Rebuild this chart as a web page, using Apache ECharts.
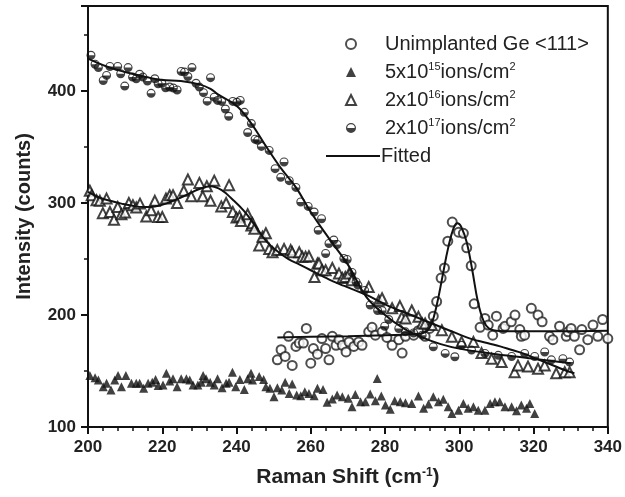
<!DOCTYPE html>
<html>
<head>
<meta charset="utf-8">
<script src="https://cdn.jsdelivr.net/npm/echarts@6/dist/echarts.min.js"></script>
<style>
  html, body { margin: 0; padding: 0; background: #fff; }
  #chart { width: 625px; height: 497px; }
</style>
</head>
<body>
<div id="chart"></div>
<script>
// Unimplanted Ge <111>  (open circles)
var circX = [251.0,252.0,253.1,254.0,255.0,256.0,256.9,258.0,258.8,260.0,260.7,261.8,263.0,264.0,264.9,265.8,266.8,267.6,268.5,269.5,270.3,271.6,272.9,273.8,275.6,276.5,277.4,279.2,280.5,281.9,283.7,284.6,285.5,287.7,289.0,290.8,292.0,293.0,293.9,295.1,296.0,296.9,298.1,299.8,301.1,302.0,303.2,304.0,305.6,306.9,307.8,309.0,310.0,311.8,312.3,314.0,315.0,316.3,316.7,317.6,319.4,321.2,322.3,324.3,325.2,327.0,328.8,329.3,330.1,331.0,332.4,333.0,334.6,336.0,337.3,338.6,340.0];
var circY = [160,169,163,181,155,172,175,175,188,157,170,165,179,170,160,181,173,178,173,167,176,172,176,173,185,189,182,185,180,173,178,166,181,182,186,181,188,199,212,233,242,266,283,274,273,260,244,210,189,197,191,182,199,188,190,194,200,187,181,182,206,200,194,181,178,190,181,185,188,181,169,187,178,191,181,196,179];

// 5x10^15 ions/cm2  (filled triangles)
var lowX = [200.5,201.9,202.8,204.1,205.0,206.2,207.2,208.1,209.0,210.2,211.7,213.0,213.9,215.0,216.2,217.3,218.2,218.9,220.2,221.1,222.0,222.9,224.0,225.1,226.5,227.4,228.3,229.6,230.5,231.0,231.8,232.9,234.0,234.9,236.1,237.2,238.0,238.9,239.8,240.9,242.1,243.0,243.9,244.3,246.1,247.3,247.9,249.0,250.1,251.0,252.2,253.1,254.2,255.0,256.2,257.3,258.4,259.5,260.9,261.8,263.3,264.4,265.8,267.1,268.5,270.1,271.1,272.0,273.4,274.7,276.0,277.4,277.9,279.0,280.1,281.4,282.6,284.1,285.5,287.2,289.0,290.4,291.7,293.0,294.4,295.7,297.0,298.0,299.8,301.1,302.4,303.8,305.1,306.9,308.3,309.6,310.9,312.3,314.1,315.4,316.7,318.1,319.0,320.3];
var lowY = [146,144,142,136,139,133,142,146,136,146,139,139,139,134.5,139,140,142.5,137,137.5,148,141,143,136,143,143,142,137.5,137.5,140,146,143,140,137.5,143,135,139,140,149,136,142.5,133.6,143,148,142,145,142.5,136,134.5,127,135,133,140,130,138.5,128.5,128,131.5,130,128,134.5,133.6,122,125,128.5,127,125.6,118,129,122.6,122.6,129.4,123.4,143.4,127.7,119.6,115.8,123.4,122.6,121.7,121,127.7,116.7,120.5,127,122.6,124.7,118,112,115,121,116.7,118,115,115,121,122.6,122.6,118,118,114.5,119.6,116.7,121,112];

// 2x10^16 ions/cm2  (open triangles)
var midX = [200.5,201.0,202.3,203.2,204.0,205.0,205.9,207.0,208.0,209.0,210.0,211.0,212.1,213.0,214.0,215.7,217.0,218.0,218.9,220.0,221.0,222.0,222.9,224.0,225.8,226.9,227.8,230.0,230.9,232.0,233.0,234.0,235.9,237.2,238.0,239.0,240.0,240.8,241.2,243.0,244.0,244.3,244.8,246.1,247.0,247.9,248.8,249.7,251.0,252.8,254.6,255.0,256.9,257.7,258.6,259.5,261.0,261.8,262.2,263.0,264.0,265.8,267.6,268.5,269.3,270.3,271.0,275.6,278.3,279.2,281.9,284.0,284.5,285.5,287.2,289.0,290.0,290.8,292.6,295.3,298.0,300.6,303.8,306.0,308.7,311.4,314.9,315.8,318.5,321.2,323.0,326.1,328.4,329.7];
var midY = [311,307,302.5,302,291,304,292,285,296.5,290,291.5,300,298,296,299.5,288,293.6,302,287.6,287.6,304,307,307,300,311,321,306,318,306,315,302,320,297,300,316,292,287,288,284,290,280,282,277,262,270,273,259,256,258,259,258,256,256,252,252,252.5,234,246,246,240,240,242,237,233,234,237,231,225,213,215,206,208,198,197,204,198.4,192.5,192.5,191,186.5,180.5,176,176,166,161,158,149,155,154,152,155,148,149,149];

// 2x10^17 ions/cm2  (half-filled circles)
var highX = [200.8,201.9,202.8,204.1,205.0,205.9,208.0,208.8,209.9,210.8,212.0,213.0,213.9,214.8,216.0,217.0,218.0,218.9,219.9,220.9,222.0,223.0,224.0,225.1,226.0,226.9,228.0,229.1,230.0,231.1,232.1,233.0,234.0,234.9,236.0,237.0,237.9,239.0,240.1,241.0,242.1,243.0,244.0,245.0,245.7,246.7,248.8,250.4,251.9,252.8,254.2,256.0,257.3,259.3,260.9,262.0,262.9,264.0,264.9,266.2,267.1,268.9,269.8,271.1,272.2,272.7,274.5,276.0,278.0,279.2,279.9,281.0,283.7,285.5,287.7,290.0,293.0,296.2,298.8,300.6,303.3,306.9,310.5,314.1,317.6,320.3,323.0,324.8,327.9,329.7];
var highY = [432,424,421,409.5,414,422,422,415.5,404.5,421,412.5,411,415,412.5,409,398,411,406.5,407,403,403.6,402.7,401,417.6,417,413,421,407,403.6,398.6,391,412,394.6,391.7,390.8,384,377.5,390.8,390,391.7,381,363,371,357,356,350.6,347,330.7,323,336.7,320,314,301,297,292,275.7,286,255,263.9,267,263,250.5,249.6,238,229.6,226.7,222,209,204,204,190,196,188,185,184,182,171.6,165.7,162.7,173,168.7,165.7,164,163,165.7,163,167,160,161,158];

// fitted curves
var fitCircX = [251,260,270,280,288,291,292.5,294,295.5,297,298.5,299.5,300.5,302,303.5,305,306.5,308,310,315,325,340];
var fitCircY = [180,180.5,181,182,183,185,192,210,235,260,278,282,279,265,240,212,195,188,186,185.5,185.5,186];
var fitMidX = [200,203,206,209,212,215,218,221,224,227,230,233,236,239,242,245,248,251,254,257,260,263,266,269,272,275,278,281,284,287,290,293,296,299,302,305,308,311,314,317,320,323,326,329,331];
var fitMidY = [310,305,302,299.5,297.5,296.5,297,299.5,303.5,308,312.5,315,311.5,303,293,280,266,257,250,245,240,235,230,226,222,218,213,208,204,200,196,192,188,184,180,177,174.5,172,169,166,162,158,154,150,148];
var fitHighX = [200,205,210,215,220,225,230,233,235,240,244,247.5,252,256,260,265,270,275,280,285,290,295,300,310,320,330];
var fitHighY = [429,422,417,413,410,409,406,402,397,387,371,353,331,314,292,268,245,216,200,188,180,174,170,165,161,157];

var legendNames = ['Unimplanted Ge <111>', '5x10{s|15}ions/cm{s|2}', '2x10{s|16}ions/cm{s|2}', '2x10{s|17}ions/cm{s|2}'];

var font = 'Arial, "Liberation Sans", Helvetica, sans-serif';
var ink = '#111';
var halfCircle = 'path://M0,-10A10,10 0 1,1 0,10A10,10 0 1,1 0,-10ZM0,-7.5A7.5,7.5 0 1,0 0,7.5A7.5,7.5 0 1,0 0,-7.5ZM-7.5,0A7.5,7.5 0 0,0 7.5,0Z';

function pairs(xs, ys) {
  var out = [];
  for (var i = 0; i < xs.length; i++) out.push([xs[i], ys[i]]);
  return out;
}

var chart = echarts.init(document.getElementById('chart'), null, { renderer: 'canvas' });

var supStyle = { fontSize: 11, verticalAlign: 'top', lineHeight: 12, fontFamily: font, color: '#222' };

var option = {
  animation: false,
  backgroundColor: '#fff',
  textStyle: { fontFamily: font },
  grid: {
    left: 88, right: 15, top: 6, bottom: 70,
    show: true, borderColor: ink, borderWidth: 2, backgroundColor: 'transparent'
  },
  legend: [
    {
      orient: 'vertical',
      left: 340, top: 28,
      itemWidth: 10, itemHeight: 10, itemGap: 6,
      data: legendNames,
      textStyle: {
        fontFamily: font, fontSize: 20, color: '#222', lineHeight: 22,
        padding: [0, 0, 0, 24],
        rich: { s: supStyle }
      }
    },
    {
      orient: 'vertical',
      left: 321, top: 141,
      itemWidth: 54, itemHeight: 2,
      data: [{ name: 'Fitted', icon: 'rect' }],
      textStyle: { fontFamily: font, fontSize: 20, color: '#222', padding: [0, 0, 0, -4] }
    }
  ],
  xAxis: {
    type: 'value', min: 200, max: 340, interval: 20,
    name: 'Raman Shift (cm{s|-1})',
    nameLocation: 'middle', nameGap: 40,
    nameTextStyle: {
      fontFamily: font, fontSize: 21, fontWeight: 'bold', color: '#222',
      rich: { s: { fontSize: 12, fontWeight: 'bold', verticalAlign: 'top', fontFamily: font, color: '#222' } }
    },
    axisLine: { lineStyle: { color: ink, width: 2 } },
    axisTick: { length: 7, lineStyle: { color: ink, width: 2 } },
    minorTick: { show: true, splitNumber: 5, length: 4, lineStyle: { color: ink, width: 1.5 } },
    splitLine: { show: false },
    axisLabel: { fontFamily: font, fontSize: 17, fontWeight: 'bold', color: '#222', margin: 12 }
  },
  yAxis: {
    type: 'value', min: 100, max: 476, interval: 100,
    name: 'Intensity (counts)',
    nameLocation: 'middle', nameGap: 54,
    nameTextStyle: { fontFamily: font, fontSize: 20, fontWeight: 'bold', color: '#222' },
    axisLine: { lineStyle: { color: ink, width: 2 } },
    axisTick: { length: 7, lineStyle: { color: ink, width: 2 } },
    minorTick: { show: true, splitNumber: 2, length: 4, lineStyle: { color: ink, width: 1.5 } },
    splitLine: { show: false },
    axisLabel: { fontFamily: font, fontSize: 17, fontWeight: 'bold', color: '#222', margin: 12, showMaxLabel: false }
  },
  series: [
    {
      name: legendNames[0], type: 'scatter', symbol: 'emptyCircle', symbolSize: 9,
      itemStyle: { color: '#222', borderWidth: 1 },
      data: pairs(circX, circY)
    },
    {
      name: legendNames[1], type: 'scatter', symbol: 'triangle', symbolSize: 9,
      itemStyle: { color: ink },
      data: pairs(lowX, lowY)
    },
    {
      name: legendNames[2], type: 'scatter', symbol: 'emptyTriangle', symbolSize: 10,
      itemStyle: { color: ink, borderWidth: 1 },
      data: pairs(midX, midY)
    },
    {
      name: legendNames[3], type: 'scatter', symbol: halfCircle, symbolSize: 9,
      itemStyle: { color: ink },
      data: pairs(highX, highY)
    },
    {
      name: 'Fitted', type: 'line', smooth: 0.4, symbol: 'none',
      lineStyle: { color: ink, width: 2 }, itemStyle: { color: ink },
      data: pairs(fitHighX, fitHighY), z: 3
    },
    {
      name: 'Fitted', type: 'line', smooth: 0.4, symbol: 'none',
      lineStyle: { color: ink, width: 2 }, itemStyle: { color: ink },
      data: pairs(fitMidX, fitMidY), z: 3
    },
    {
      name: 'Fitted', type: 'line', smooth: 0.4, symbol: 'none',
      lineStyle: { color: ink, width: 2 }, itemStyle: { color: ink },
      data: pairs(fitCircX, fitCircY), z: 3
    }
  ]
};

chart.setOption(option);
</script>
</body>
</html>
